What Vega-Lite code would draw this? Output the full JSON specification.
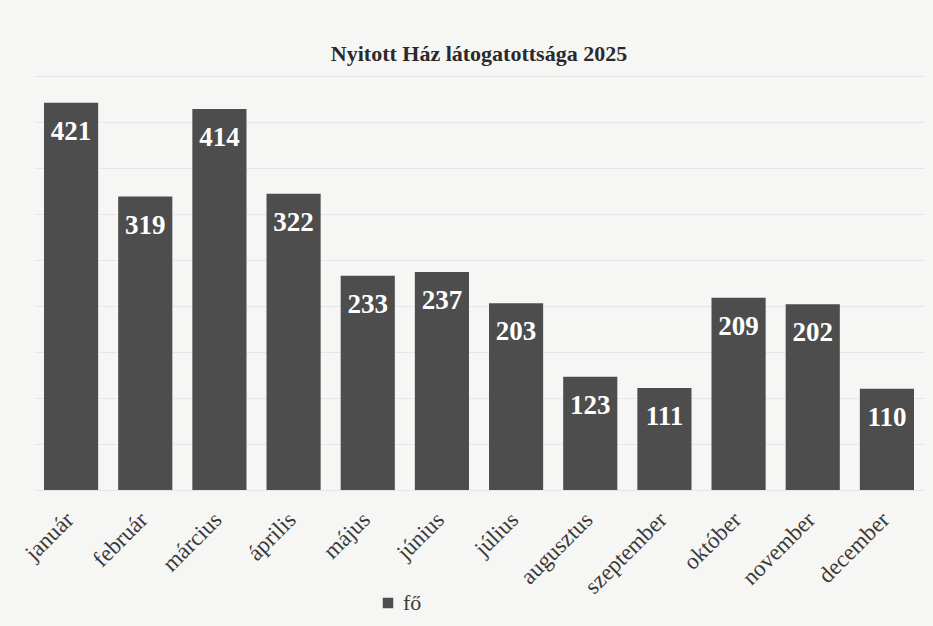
{
  "$schema": "https://vega.github.io/schema/vega-lite/v6.json",
  "width": 890,
  "height": 414,
  "autosize": {"type": "none"},
  "padding": {"left": 34, "top": 76, "right": 9, "bottom": 136},
  "background": "#f6f6f4",
  "view": {"stroke": null},
  "title": {
    "text": "Nyitott Ház látogatottsága 2025",
    "font": "Liberation Serif",
    "fontSize": 22,
    "fontWeight": "bold",
    "color": "#2a2a2a",
    "anchor": "middle",
    "offset": 10
  },
  "data": {
    "values": [
      {"honap": "január", "fo": 421},
      {"honap": "február", "fo": 319},
      {"honap": "március", "fo": 414},
      {"honap": "április", "fo": 322},
      {"honap": "május", "fo": 233},
      {"honap": "június", "fo": 237},
      {"honap": "július", "fo": 203},
      {"honap": "augusztus", "fo": 123},
      {"honap": "szeptember", "fo": 111},
      {"honap": "október", "fo": 209},
      {"honap": "november", "fo": 202},
      {"honap": "december", "fo": 110}
    ]
  },
  "encoding": {
    "x": {
      "field": "honap",
      "type": "nominal",
      "sort": null,
      "scale": {"paddingInner": 0.27, "paddingOuter": 0.135},
      "axis": {
        "title": null,
        "labelAngle": -45,
        "labelAlign": "right",
        "labelBaseline": "top",
        "labelOffset": -9,
        "labelPadding": 18,
        "labelFont": "Liberation Serif",
        "labelFontSize": 23,
        "labelColor": "#3a3a3a",
        "domain": false,
        "ticks": false
      }
    },
    "y": {
      "field": "fo",
      "type": "quantitative",
      "scale": {"domain": [0, 450], "nice": false},
      "axis": {
        "title": null,
        "labels": false,
        "ticks": false,
        "domain": false,
        "tickCount": 9,
        "gridColor": "#e6e6e6",
        "gridWidth": 1
      }
    }
  },
  "layer": [
    {
      "mark": {"type": "bar", "color": "#4d4d4d"},
      "encoding": {
        "color": {
          "datum": "fő",
          "type": "nominal",
          "scale": {"range": ["#4d4d4d"]},
          "legend": {
            "title": null,
            "orient": "none",
            "legendX": 343,
            "legendY": 516,
            "symbolType": "square",
            "symbolSize": 110,
            "labelFont": "Liberation Serif",
            "labelFontSize": 22,
            "labelColor": "#3a3a3a"
          }
        }
      }
    },
    {
      "mark": {
        "type": "text",
        "baseline": "top",
        "dy": 16,
        "font": "Liberation Serif",
        "fontSize": 27,
        "fontWeight": "bold",
        "color": "#ffffff"
      },
      "encoding": {"text": {"field": "fo", "type": "quantitative"}}
    }
  ]
}
